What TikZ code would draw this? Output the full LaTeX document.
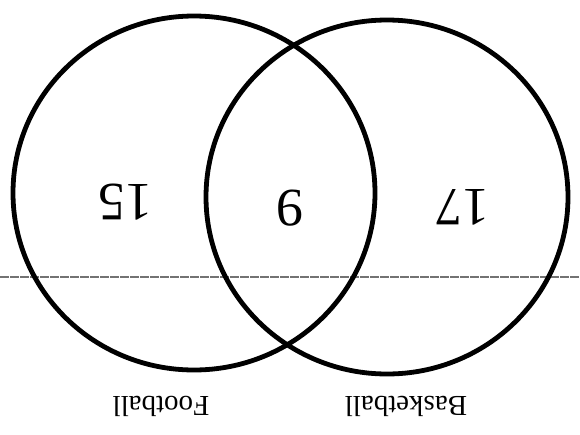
\documentclass[tikz,border=0pt]{standalone}
\usepackage{fontspec}
\setmainfont{Liberation Serif}
\usetikzlibrary{shapes.geometric}
\begin{document}
\begin{tikzpicture}[x=1pt,y=-1pt,
  setcircle/.style={draw=black, line width=4.8pt, ellipse, minimum width=362pt, minimum height=354pt, inner sep=0pt},
  countlabel/.style={rotate=180, font=\fontsize{54}{54}\selectfont, inner sep=0pt},
  setlabel/.style={rotate=180, font=\fontsize{29}{29}\selectfont, inner sep=0pt}]
  \useasboundingbox (0,0) rectangle (580,434);
  \coordinate (lineL) at (0,277);
  \coordinate (lineR) at (580,277);
  \draw[black!55, line width=1.2pt, dash pattern=on 9pt off 1pt] (lineL) -- (lineR);
  \node[setcircle] (football) at (194,193) {};
  \node[setcircle] (basketball) at (387,197) {};
  \node[countlabel] (n15) at (125,202) {15};
  \node[countlabel] (n9) at (290,208) {9};
  \node[countlabel] (n17) at (462,207) {17};
  \node[setlabel] (lf) at (161,406) {Football};
  \node[setlabel] (lb) at (406,406) {Basketball};
\end{tikzpicture}
\end{document}
